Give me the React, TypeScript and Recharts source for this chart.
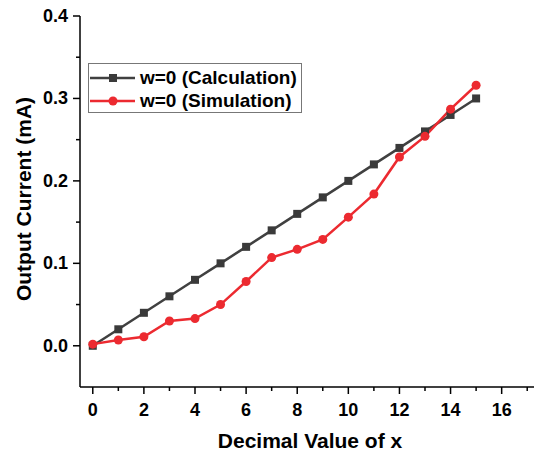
import { Legend, Line, LineChart, XAxis, YAxis } from "recharts";

const xValues = [0, 1, 2, 3, 4, 5, 6, 7, 8, 9, 10, 11, 12, 13, 14, 15];
const calculation = [0, 0.02, 0.04, 0.06, 0.08, 0.1, 0.12, 0.14, 0.16, 0.18, 0.2, 0.22, 0.24, 0.26, 0.28, 0.3];
const simulation = [0.002, 0.007, 0.011, 0.03, 0.033, 0.05, 0.078, 0.107, 0.117, 0.129, 0.156, 0.184, 0.229, 0.254, 0.287, 0.316];
const xTicks = [0, 1, 2, 3, 4, 5, 6, 7, 8, 9, 10, 11, 12, 13, 14, 15, 16, 17];
const yTicks = [0, 0.05, 0.1, 0.15, 0.2, 0.25, 0.3, 0.35, 0.4];

const data = xValues.map((x, i) => ({
  x,
  calc: calculation[i],
  sim: simulation[i],
}));

const GRAY = "#404040";
const RED = "#ec2a30";
const FONT = "'Liberation Sans', Arial, sans-serif";

const XTick = ({ x, y, payload }: any) => {
  const major = payload.value % 2 === 0;
  return (
    <g>
      <line x1={x} x2={x} y1={y} y2={y + (major ? 7 : 4)} stroke="#000" strokeWidth={1.5} />
      {major && (
        <text x={x} y={y + 29} textAnchor="middle" fontSize={18} fontWeight="bold" fontFamily={FONT} fill="#000">
          {payload.value}
        </text>
      )}
    </g>
  );
};

const YTick = ({ x, y, payload }: any) => {
  const major = Math.round(payload.value * 100) % 10 === 0;
  return (
    <g>
      <line x1={x} x2={x - (major ? 7 : 4)} y1={y} y2={y} stroke="#000" strokeWidth={1.5} />
      {major && (
        <text x={x - 12} y={y + 6} textAnchor="end" fontSize={18} fontWeight="bold" fontFamily={FONT} fill="#000">
          {payload.value.toFixed(1)}
        </text>
      )}
    </g>
  );
};

const SquareDot = ({ cx, cy, index }: any) => (
  <rect key={`sq-${index}`} x={cx - 4} y={cy - 4} width={8} height={8} fill="#3a3a3a" />
);

const RoundDot = ({ cx, cy, index }: any) => (
  <circle key={`ci-${index}`} cx={cx} cy={cy} r={4.5} fill={RED} />
);

const LegendBox = () => {
  const rows = [
    { label: "w=0 (Calculation)", color: GRAY, square: true },
    { label: "w=0 (Simulation)", color: RED, square: false },
  ];
  return (
    <div
      style={{
        border: "1px solid #777",
        width: 214,
        height: 50,
        padding: "2px 0 0 1px",
        boxSizing: "border-box",
        fontFamily: FONT,
        fontWeight: "bold",
        fontSize: 19,
        background: "#fff",
        whiteSpace: "nowrap",
      }}
    >
      {rows.map((r) => (
        <div key={r.label} style={{ display: "flex", alignItems: "center", height: 23 }}>
          <svg width={50} height={12} style={{ flex: "none" }}>
            <line x1={0} x2={45} y1={6} y2={6} stroke={r.color} strokeWidth={2.5} />
            {r.square ? (
              <rect x={19} y={2} width={8} height={8} fill="#3a3a3a" />
            ) : (
              <circle cx={23} cy={6} r={4.5} fill={r.color} />
            )}
          </svg>
          <span>{r.label}</span>
        </div>
      ))}
    </div>
  );
};

export default function App() {
  return (
    <div style={{ margin: -8, width: 542, height: 458, background: "#fff" }}>
      <LineChart width={542} height={458} data={data} margin={{ top: 16, right: 2, bottom: 41, left: 0 }}>
        <XAxis
          dataKey="x"
          type="number"
          domain={[-0.5, 17.5]}
          ticks={xTicks}
          interval={0}
          tick={<XTick />}
          tickLine={false}
          tickSize={0}
          tickMargin={0}
          height={30}
          stroke="#000"
          strokeWidth={1.5}
          label={{
            value: "Decimal Value of x",
            position: "bottom",
            offset: 16,
            fontSize: 21,
            fontWeight: "bold",
            fontFamily: FONT,
            fill: "#000",
          }}
        />
        <YAxis
          type="number"
          domain={[-0.05, 0.4]}
          ticks={yTicks}
          interval={0}
          tick={<YTick />}
          tickLine={false}
          tickSize={0}
          tickMargin={0}
          width={80}
          stroke="#000"
          strokeWidth={1.5}
          label={{
            content: () => (
              <text
                x={25}
                y={199}
                transform="rotate(-90 25 199)"
                textAnchor="middle"
                dominantBaseline="middle"
                fontSize={21}
                fontWeight="bold"
                fontFamily={FONT}
                fill="#000"
              >
                Output Current (mA)
              </text>
            ),
          }}
        />
        <Legend
          layout="vertical"
          align="center"
          verticalAlign="middle"
          content={<LegendBox />}
          wrapperStyle={{ position: "absolute", left: 88, top: 63, width: 214 }}
        />
        <Line
          dataKey="calc"
          stroke={GRAY}
          strokeWidth={2.5}
          dot={<SquareDot />}
          activeDot={false}
          isAnimationActive={false}
        />
        <Line
          dataKey="sim"
          stroke={RED}
          strokeWidth={2.5}
          dot={<RoundDot />}
          activeDot={false}
          isAnimationActive={false}
        />
      </LineChart>
    </div>
  );
}
